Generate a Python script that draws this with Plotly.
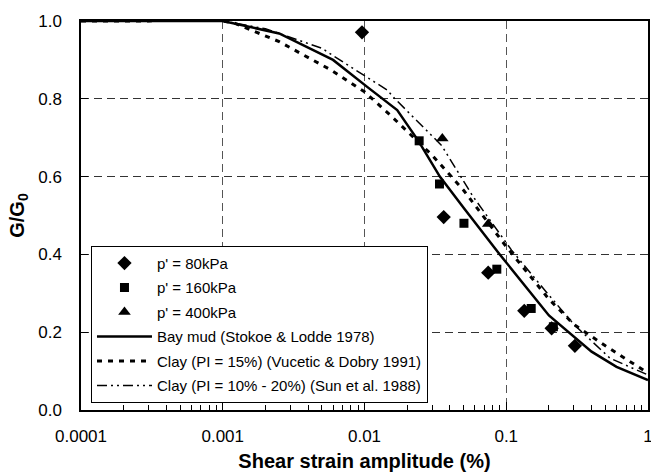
import plotly.graph_objects as go

# measured points, G/G0 vs shear strain amplitude (%)
p80_x = [0.0096, 0.0362, 0.0746, 0.134, 0.209, 0.305]
p80_y = [0.971, 0.496, 0.353, 0.255, 0.210, 0.165]
p160_x = [0.0243, 0.0338, 0.0503, 0.0858, 0.150, 0.215]
p160_y = [0.692, 0.581, 0.480, 0.362, 0.261, 0.214]
p400_x = [0.0354, 0.0746]
p400_y = [0.698, 0.478]

# reference curves
bay_x = [0.0001, 0.001, 0.0025, 0.006, 0.0105, 0.017, 0.024, 0.034, 0.05, 0.09, 0.2, 0.4, 0.6, 1.0]
bay_y = [1.0, 1.0, 0.968, 0.90, 0.83, 0.771, 0.692, 0.60, 0.52, 0.40, 0.243, 0.15, 0.111, 0.077]
vd_x = [0.0001, 0.0003, 0.0005, 0.0008, 0.0012, 0.0025, 0.0058, 0.01, 0.015, 0.03, 0.05, 0.1, 0.2, 0.3, 0.5, 0.7, 1.0]
vd_y = [1.0, 1.0, 1.005, 1.005, 0.995, 0.947, 0.874, 0.818, 0.76, 0.655, 0.565, 0.42, 0.285, 0.22, 0.165, 0.13, 0.095]
sun_x = [0.0001, 0.001, 0.002, 0.005, 0.0073, 0.01, 0.0144, 0.0164, 0.0233, 0.035, 0.058, 0.109, 0.195, 0.3, 0.54, 1.0]
sun_y = [1.0, 1.0, 0.98, 0.93, 0.891, 0.86, 0.823, 0.80, 0.745, 0.68, 0.55, 0.411, 0.30, 0.22, 0.133, 0.09]

FONT = "Arial, Liberation Sans, sans-serif"

fig = go.Figure()
fig.add_trace(go.Scatter(x=p80_x, y=p80_y, mode="markers", name="p' = 80kPa", legendgroup="a",
                         marker=dict(symbol="diamond", size=11, color="black")))
fig.add_trace(go.Scatter(x=p160_x, y=p160_y, mode="markers", name="p' = 160kPa", legendgroup="b",
                         marker=dict(symbol="square", size=9, color="black")))
fig.add_trace(go.Scatter(x=p400_x, y=p400_y, mode="markers", name="p' = 400kPa", legendgroup="c",
                         marker=dict(symbol="triangle-up", size=11, color="black")))
fig.add_trace(go.Scatter(x=bay_x, y=bay_y, mode="lines", name="Bay mud (Stokoe & Lodde 1978)",
                         legendgroup="d", line=dict(color="black", width=2.5)))
fig.add_trace(go.Scatter(x=vd_x, y=vd_y, mode="lines", name="Clay (PI = 15%) (Vucetic & Dobry 1991)",
                         legendgroup="e", line=dict(color="black", width=3, dash="5px,6px")))
fig.add_trace(go.Scatter(x=sun_x, y=sun_y, mode="lines", name="Clay (PI = 10% - 20%) (Sun et al. 1988)",
                         legendgroup="f",
                         line=dict(color="black", width=1.5, dash="10px,4px,2px,4px,2px,4px")))

fig.update_layout(
    width=651, height=472,
    margin=dict(l=81, r=3, t=21, b=62),
    paper_bgcolor="white", plot_bgcolor="white",
    font=dict(family=FONT, size=17, color="black"),
    legend=dict(x=0.0176, y=0.422, xanchor="left", yanchor="top",
                bgcolor="white", bordercolor="black", borderwidth=1,
                font=dict(size=15), itemwidth=55, tracegroupgap=2),
)
fig.update_xaxes(type="log", range=[-4, 0], dtick=1, tickformat="~g", automargin=False,
                 ticks="inside", ticklen=8, tickcolor="black", ticklabelstandoff=10,
                 ticklabeloverflow="allow",
                 minor=dict(ticks="inside", ticklen=5, tickcolor="black", dtick="D1", showgrid=False),
                 showline=True, linecolor="black", linewidth=1.5, mirror=True,
                 showgrid=True, gridcolor="#555", griddash="8px,5px", gridwidth=1,
                 zeroline=False,
                 title=dict(text="<b>Shear strain amplitude (%)</b>", standoff=10))
fig.update_yaxes(range=[0, 1.0], dtick=0.2, tickformat=".1f", automargin=False,
                 ticks="inside", ticklen=7, tickcolor="black", ticklabelstandoff=14,
                 showline=True, linecolor="black", linewidth=1.5, mirror=True,
                 showgrid=True, gridcolor="#333", griddash="8px,5px", gridwidth=1,
                 zeroline=False,
                 title=dict(text="<b>G/G<sub>0</sub></b>", standoff=8))

# drop the page's default body margin so the figure sits at the window origin
fig.write_html("out.html", config={"displayModeBar": False},
               post_script="document.body.style.margin='0';")
